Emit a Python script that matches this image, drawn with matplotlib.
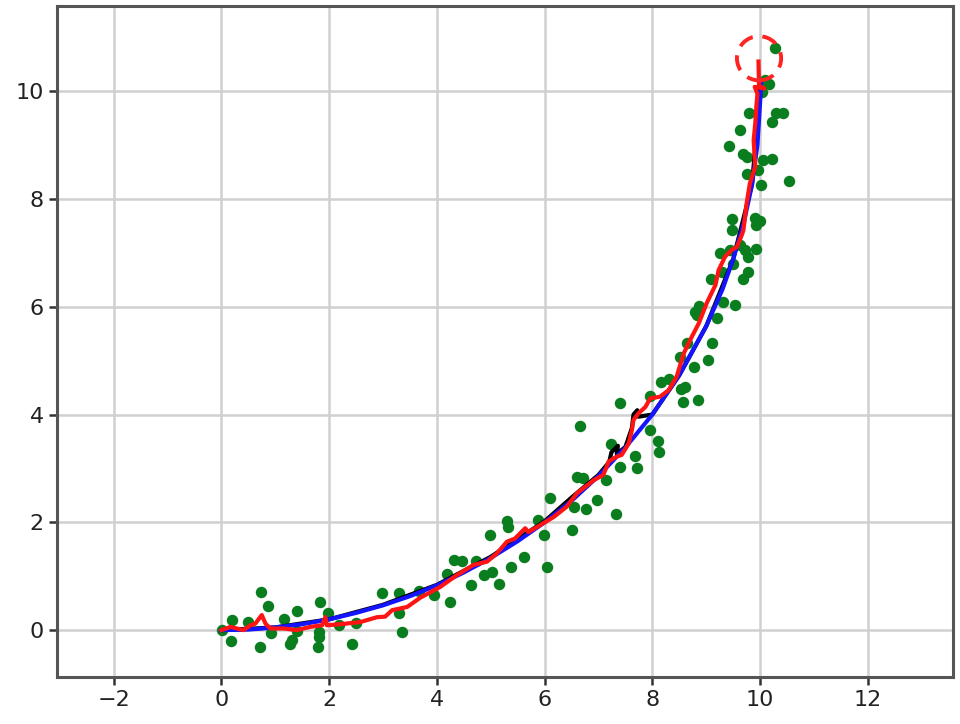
import numpy as np
import matplotlib
matplotlib.use('Agg')
import matplotlib.pyplot as plt
from matplotlib.patches import Circle

# 观测点 (green)
obs_x = [0.01, 0.20, 0.18, 0.73, 0.87, 0.50, 0.72, 0.92, 1.16, 1.40, 1.40, 1.28, 1.32,
         1.83, 1.81, 1.81, 1.79, 1.98, 2.18, 2.42, 2.49, 2.98, 3.29, 3.29, 3.35, 3.66,
         3.94, 4.25, 4.19, 4.31, 4.47, 4.63, 4.72,
         4.87, 5.02, 5.16, 4.99, 5.30, 5.32, 5.38, 5.62, 5.88, 5.99, 6.04, 6.10, 6.51,
         6.54, 6.76, 6.98, 7.32, 6.60, 6.72, 6.66, 7.14, 7.23, 7.40, 7.68, 7.72, 7.40,
         7.96, 8.11, 8.13,
         7.95, 8.16, 8.30, 8.53, 8.60, 8.56, 8.85, 8.77, 8.52, 8.64, 9.03, 9.10, 8.79,
         8.83, 8.86, 9.20, 9.54, 9.32, 9.08, 9.29, 9.26, 9.44, 9.72, 9.78, 9.68, 9.93,
         9.78, 9.50, 9.47, 9.47, 9.91, 10.00, 9.93, 9.63, 10.53, 10.02, 9.75, 9.97,
         9.75, 9.69, 10.06, 10.22, 9.43, 9.62, 9.80, 10.22, 10.29, 10.43, 10.03, 10.09,
         10.16, 10.28]
obs_y = [0.00, 0.19, -0.21, 0.70, 0.45, 0.15, -0.32, -0.05, 0.20, 0.36, -0.01, -0.26, -0.19,
         0.53, -0.04, -0.13, -0.31, 0.31, 0.09, -0.25, 0.13, 0.69, 0.68, 0.31, -0.03, 0.72,
         0.65, 0.53, 1.05, 1.31, 1.28, 0.83, 1.28,
         1.02, 1.08, 0.85, 1.76, 2.03, 1.92, 1.18, 1.36, 2.04, 1.77, 1.18, 2.46, 1.85,
         2.28, 2.24, 2.41, 2.15, 2.85, 2.82, 3.78, 2.78, 3.46, 3.02, 3.24, 3.01, 4.21,
         3.71, 3.50, 3.30,
         4.34, 4.60, 4.66, 4.47, 4.51, 4.23, 4.27, 4.89, 5.07, 5.32, 5.01, 5.32, 5.91,
         5.84, 6.02, 5.80, 6.03, 6.09, 6.52, 6.65, 6.99, 7.05, 7.05, 6.65, 6.52, 7.08,
         6.93, 6.80, 7.43, 7.63, 7.64, 7.59, 7.51, 7.14, 8.34, 8.25, 8.47, 8.53,
         8.78, 8.84, 8.72, 8.75, 8.99, 9.28, 9.59, 9.43, 9.60, 9.59, 9.99, 10.20,
         10.14, 10.81]

# 真实轨迹 (black)
true_x = [0, 1, 2, 3, 4, 5, 6, 6.5, 7.0, 7.2, 7.24, 7.36, 7.34, 7.5, 7.62, 7.65, 7.72,
          7.74, 8.0, 8.5, 9.0, 9.5, 9.85, 10.0]
true_y = [0, 0.05, 0.20, 0.47, 0.84, 1.36, 2.02, 2.46, 2.88, 3.12, 3.30, 3.42, 3.27, 3.40,
          3.75, 4.00, 4.08, 3.96, 4.00, 4.73, 5.64, 6.88, 8.27, 10.0]

# 平滑估计 (blue)
smooth_x = [0, 0.5, 1, 1.5, 2, 2.5, 3, 3.5, 4, 4.5, 5, 5.5, 6, 6.5, 7, 7.5, 8, 8.5, 9,
            9.3, 9.5, 9.7, 9.85, 9.95, 10.0, 10.02]
smooth_y = [0, 0.01, 0.05, 0.11, 0.20, 0.32, 0.46, 0.63, 0.83, 1.07, 1.34, 1.65, 2.0, 2.40,
            2.86, 3.39, 4.0, 4.73, 5.64, 6.32, 6.88, 7.57, 8.27, 9.0, 9.8, 10.15]

# 滤波估计 (red)
filt_x = [0.00, 0.17, 0.29, 0.41, 0.54, 0.63, 0.75, 0.82, 0.91, 1.16, 1.40, 1.65, 1.87, 1.93,
          1.96, 2.21, 2.58, 2.89, 3.04, 3.17, 3.45, 3.69, 4.06, 4.37, 4.68, 4.93, 5.11, 5.30,
          5.45, 5.64, 5.70, 5.92, 6.17, 6.41, 6.60, 6.91, 7.09, 7.19, 7.34, 7.43, 7.56, 7.62,
          7.65, 7.74, 7.87, 7.96, 8.14, 8.30, 8.45, 8.58, 8.70, 8.86, 9.01, 9.17, 9.23, 9.35,
          9.47, 9.57, 9.66, 9.69, 9.75, 9.81, 9.91, 9.88, 9.91, 9.93, 9.95, 9.90, 10.08, 9.98,
          9.97]
filt_y = [0.00, 0.06, 0.03, 0.00, 0.09, 0.12, 0.28, 0.12, 0.03, 0.03, 0.00, 0.06, 0.09, 0.24,
          0.09, 0.11, 0.15, 0.24, 0.25, 0.37, 0.43, 0.60, 0.80, 1.02, 1.21, 1.27, 1.42, 1.64,
          1.70, 1.89, 1.82, 1.95, 2.10, 2.29, 2.54, 2.78, 2.88, 3.13, 3.22, 3.25, 3.46, 3.71,
          3.90, 4.02, 4.14, 4.30, 4.33, 4.45, 4.70, 5.13, 5.38, 5.69, 6.07, 6.40, 6.68, 6.93,
          7.05, 7.11, 7.33, 7.42, 7.92, 8.29, 8.60, 9.09, 9.40, 9.71, 9.95, 10.08, 10.05, 10.10,
          10.55]

# 目标圈
target = (9.98, 10.61)
target_r = 0.41

fig = plt.figure(figsize=(9.6, 7.24), dpi=100)
ax = fig.add_axes([0.0594, 0.0649, 0.9333, 0.9268])

ax.scatter(obs_x, obs_y, s=68, color='#0a7d1e', linewidths=0, zorder=2)
ax.plot(true_x, true_y, color='black', lw=3, zorder=3)
ax.plot(smooth_x, smooth_y, color='#1414ff', lw=3, zorder=4)
ax.plot(filt_x, filt_y, color='#ff1414', lw=3, zorder=5)
ax.add_patch(Circle(target, target_r, fill=False, ec='#ff2424', lw=2.8, ls=(0, (4, 2.5)), zorder=6))

ax.set_xlim(-3.05, 13.58)
ax.set_ylim(-0.87, 11.58)
ax.set_xticks(np.arange(-2, 13, 2))
ax.set_yticks(np.arange(0, 11, 2))
ax.grid(True, color='#d0d0d0', lw=1.8)
ax.set_axisbelow(True)

for s in ax.spines.values():
    s.set_color('#555555')
    s.set_linewidth(2.2)
ax.tick_params(colors='#333333', labelsize=16, length=6, width=1.8, labelcolor='#222222')

fig.savefig('out.png', dpi=100)
